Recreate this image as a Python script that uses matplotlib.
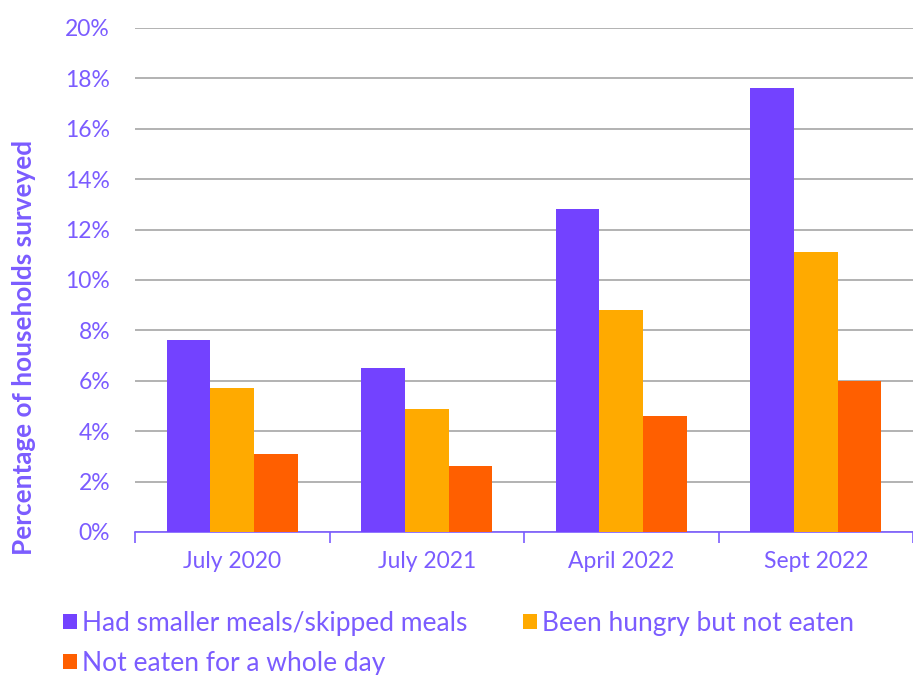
import matplotlib
matplotlib.use("Agg")
import matplotlib.pyplot as plt
import numpy as np
from matplotlib.ticker import MultipleLocator, FuncFormatter

categories = ["July 2020", "July 2021", "April 2022", "Sept 2022"]
series_names = ["Had smaller meals/skipped meals", "Been hungry but not eaten", "Not eaten for a whole day"]
smaller_meals = [7.6, 6.5, 12.8, 17.6]
hungry_not_eaten = [5.7, 4.9, 8.8, 11.1]
whole_day = [3.1, 2.6, 4.6, 6.0]
colors = ["#7342FF", "#FFAA00", "#FF5F00"]
text_color = "#7B5CFF"

plt.rcParams['font.family'] = ['Lato', 'DejaVu Sans']

fig = plt.figure(figsize=(9.13, 6.75), dpi=100)
ax = fig.add_axes([135/913, 1-532/675, 1-135/913, (532-28)/675])

x = np.arange(len(categories))
w = 0.225
handles = []
for i, (vals, name) in enumerate(zip([smaller_meals, hungry_not_eaten, whole_day], series_names)):
    b = ax.bar(x + (i-1)*w, vals, width=w, color=colors[i], label=name, zorder=3)
    handles.append(b)

ax.set_xlim(-0.5, len(categories)-0.5)
ax.set_ylim(0, 20)
ax.yaxis.set_major_locator(MultipleLocator(2))
ax.yaxis.set_major_formatter(FuncFormatter(lambda v, p: f"{int(v)}%"))
ax.grid(axis='y', color='#A6A6A6', linewidth=1.2, zorder=0)
for s in ['left', 'right', 'top']:
    ax.spines[s].set_visible(False)
ax.spines['bottom'].set_color(text_color)
ax.spines['bottom'].set_linewidth(1.2)
ax.tick_params(axis='y', length=0, labelsize=16.5, labelcolor=text_color, pad=18)
ax.set_xticks(x)
ax.set_xticklabels(categories)
ax.tick_params(axis='x', length=0, labelsize=16.5, labelcolor=text_color, pad=14)
ax.set_xticks(np.arange(-0.5, len(categories)), minor=True)
ax.tick_params(axis='x', which='minor', length=8, color=text_color, width=1.2)

ax.set_ylabel("Percentage of households surveyed", fontsize=18.8, fontweight='bold', color=text_color)
ax.yaxis.set_label_coords(-0.127, 0.367)

leg = fig.legend([handles[0], handles[2], handles[1]],
                 [series_names[0], series_names[2], series_names[1]],
                 loc='upper left', bbox_to_anchor=(63/913, 1-611/675), ncol=2, frameon=False,
                 prop={'size': 19},
                 handlelength=0.53, handleheight=0.53, handletextpad=0.2,
                 columnspacing=2.09, labelspacing=0.57, borderaxespad=0, borderpad=0)
for t in leg.get_texts():
    t.set_color(text_color)

fig.savefig("out.png", dpi=100)
